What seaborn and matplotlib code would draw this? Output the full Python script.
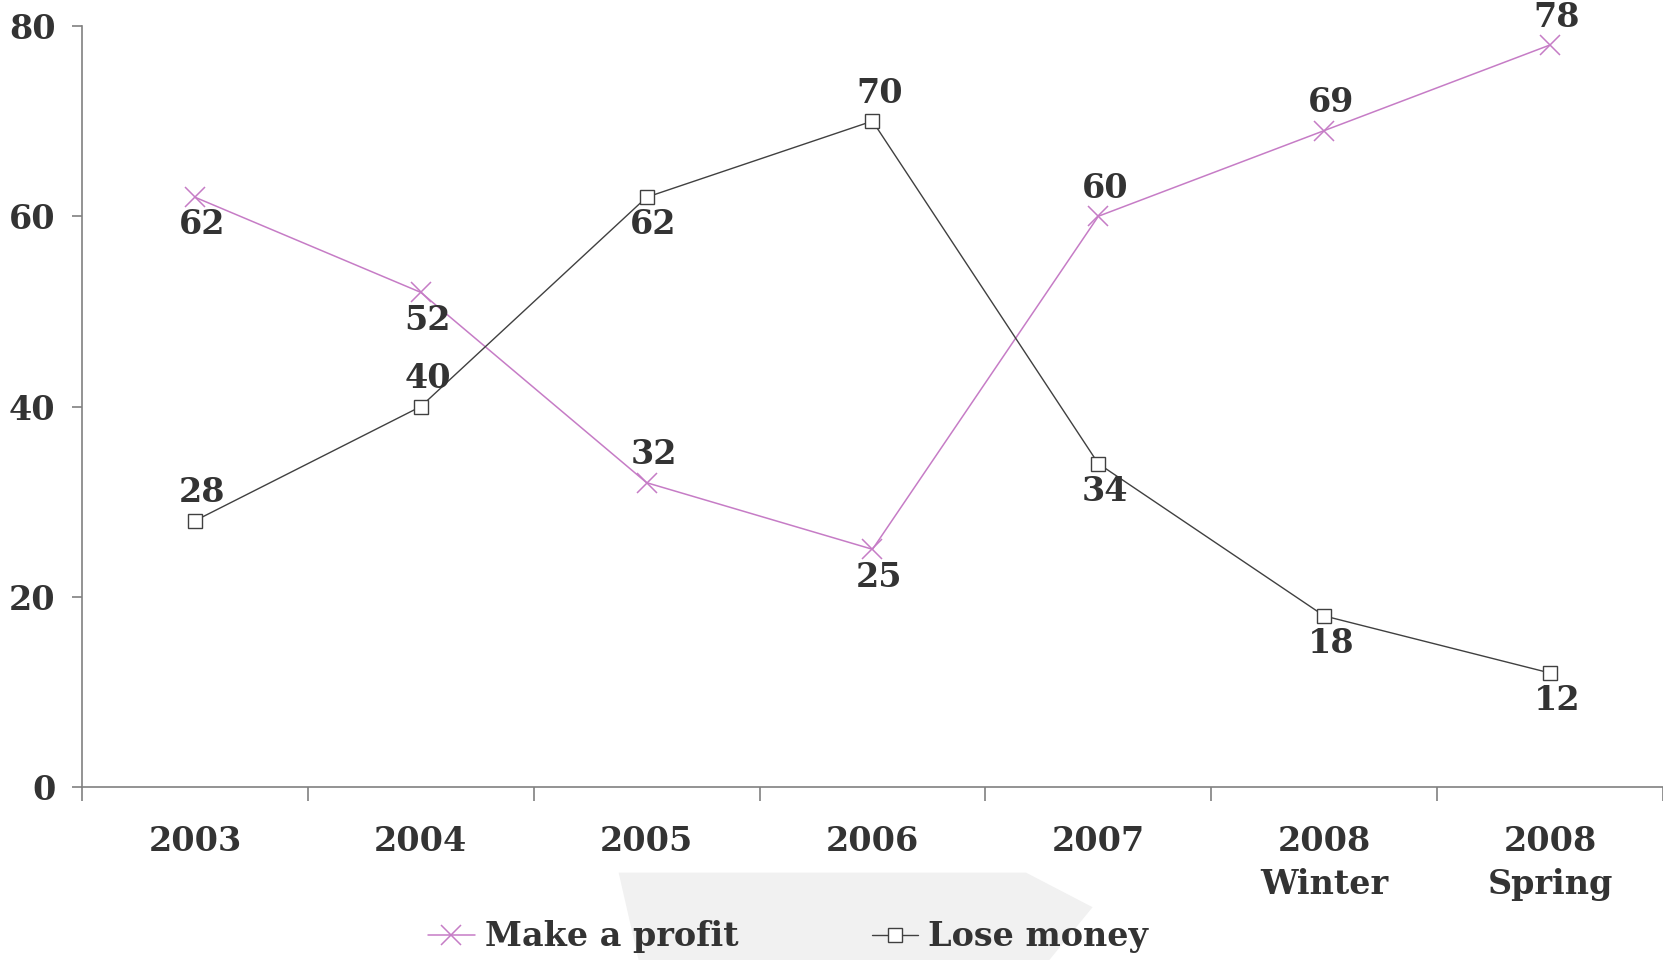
import pandas as pd
import seaborn as sns
import matplotlib.pyplot as plt
from matplotlib.patches import Polygon
from matplotlib.lines import Line2D

# Chart data
categories = ['2003', '2004', '2005', '2006', '2007', '2008\nWinter', '2008\nSpring']
make_profit = [62, 52, 32, 25, 60, 69, 78]
lose_money = [28, 40, 62, 70, 34, 18, 12]
# label placement per point: +1 above, -1 below
profit_label_side = [-1, -1, 1, -1, 1, 1, 1]
lose_label_side = [1, 1, -1, 1, -1, -1, -1]

sns.set_theme(style='white')
plt.rcParams['font.family'] = ['DejaVu Serif', 'DejaVu Sans']
plt.rcParams['font.weight'] = 'bold'

text_color = '#333333'
pink = '#c67cc6'
dark = '#404040'
fsize = 24

df = pd.DataFrame({
    'pos': list(range(len(categories))) * 2,
    'value': make_profit + lose_money,
    'series': ['Make a profit'] * len(categories) + ['Lose money'] * len(categories),
})

fig = plt.figure(figsize=(16.63, 9.6), dpi=100)

# light grey arrow-like decoration behind the legend
deco = Polygon([[0.372, 0.091], [0.617, 0.091], [0.657, 0.055], [0.631, 0.0], [0.384, 0.0]],
               closed=True, transform=fig.transFigure, facecolor='#f1f1f1', edgecolor='none', zorder=0)
fig.patches.append(deco)

ax = fig.add_axes([0.0493, 0.180, 0.9507, 0.793])
ax.patch.set_alpha(0)

sns.lineplot(data=df[df['series'] == 'Make a profit'], x='pos', y='value', ax=ax,
             color=pink, lw=1.1, marker='x', markersize=14, markeredgewidth=1.1,
             markeredgecolor=pink, legend=False)
sns.lineplot(data=df[df['series'] == 'Lose money'], x='pos', y='value', ax=ax,
             color=dark, lw=1.0, marker='s', markersize=10, markeredgewidth=1.0,
             markerfacecolor='white', markeredgecolor=dark, legend=False)

for vals, sides in [(make_profit, profit_label_side), (lose_money, lose_label_side)]:
    for i, (v, s) in enumerate(zip(vals, sides)):
        dy = 20 if s > 0 else -20
        ax.annotate(str(v), (i, v), xytext=(5, dy), textcoords='offset points',
                    ha='center', va='center', fontsize=fsize, fontweight='bold',
                    color=text_color, annotation_clip=False)

ax.set_xlim(-0.5, len(categories) - 0.5)
ax.set_ylim(0, 80)
ax.set_yticks([0, 20, 40, 60, 80])
ax.set_xticks([i + 0.5 for i in range(-1, len(categories))], minor=False)
ax.set_xticklabels([])
ax.set_xticks(range(len(categories)), minor=True)
ax.set_xticklabels(categories, minor=True)
ax.set_xlabel('')
ax.set_ylabel('')

for side in ['top', 'right']:
    ax.spines[side].set_visible(False)
for side in ['left', 'bottom']:
    ax.spines[side].set_color('#808080')
    ax.spines[side].set_linewidth(1.2)

ax.tick_params(axis='y', which='major', left=True, length=7, width=1.2, color='#808080',
               labelsize=fsize, labelcolor=text_color, pad=12)
ax.tick_params(axis='x', which='major', bottom=True, length=10, width=1.2, color='#808080')
ax.tick_params(axis='x', which='minor', bottom=False, length=0, labelsize=fsize,
               labelcolor=text_color, pad=27)
for lbl in ax.get_yticklabels() + ax.get_xticklabels(minor=True):
    lbl.set_fontweight('bold')
    lbl.set_linespacing(1.4)

handles = [
    Line2D([], [], color=pink, lw=1.1, marker='x', markersize=14, markeredgewidth=1.1),
    Line2D([], [], color=dark, lw=1.0, marker='s', markersize=10, markerfacecolor='white'),
]
leg = fig.legend(handles, ['Make a profit', 'Lose money'], loc='center', bbox_to_anchor=(0.474, 0.024),
                 ncol=2, frameon=False, fontsize=fsize, handlelength=1.4, handletextpad=0.3,
                 columnspacing=4.0)
for t in leg.get_texts():
    t.set_color(text_color)
    t.set_fontweight('bold')

fig.savefig('out.png', dpi=100)
